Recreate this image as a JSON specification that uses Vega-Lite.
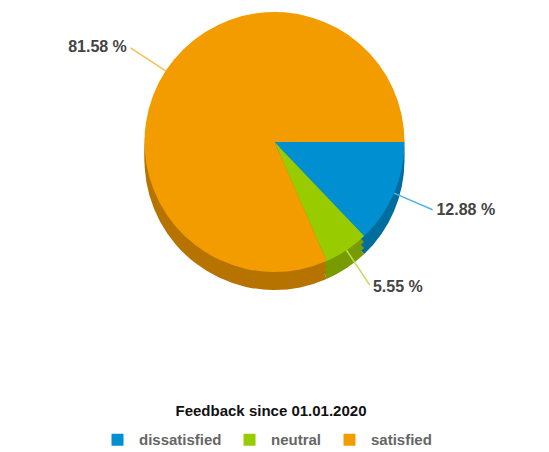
{
  "$schema": "https://vega.github.io/schema/vega-lite/v6.json",
  "width": 549,
  "height": 284,
  "padding": 0,
  "background": "white",
  "data": {"values": [
    {"category": "dissatisfied", "value": 12.88},
    {"category": "neutral", "value": 5.55},
    {"category": "satisfied", "value": 81.58}
  ]},
  "transform": [
    {"stack": "value", "groupby": [], "sort": [{"field": "category", "order": "ascending"}], "offset": "normalize", "as": ["t0", "t1"]},
    {"calculate": "(datum.t0 + datum.t1) / 2", "as": "mid"},
    {"calculate": "format(datum.value, '.2f') + ' %'", "as": "label"}
  ],
  "layer": [
    {
      "mark": {"type": "arc", "radius": 130, "yOffset": 18},
      "encoding": {
        "theta": {"field": "t0", "type": "quantitative", "stack": null, "scale": {"domain": [0, 1], "range": [1.5708, 7.854]}},
        "theta2": {"field": "t1"},
        "color": {"field": "category", "type": "nominal", "scale": {"domain": ["dissatisfied", "neutral", "satisfied"], "range": ["#006d9f", "#779b00", "#b77300"]}, "legend": null}
      }
    },
    {
      "mark": {"type": "arc", "radius": 130, "yOffset": 12},
      "encoding": {
        "theta": {"field": "t0", "type": "quantitative", "stack": null, "scale": {"domain": [0, 1], "range": [1.5708, 7.854]}},
        "theta2": {"field": "t1"},
        "color": {"field": "category", "type": "nominal", "scale": {"domain": ["dissatisfied", "neutral", "satisfied"], "range": ["#006d9f", "#779b00", "#b77300"]}, "legend": null}
      }
    },
    {
      "mark": {"type": "arc", "radius": 130, "yOffset": 6},
      "encoding": {
        "theta": {"field": "t0", "type": "quantitative", "stack": null, "scale": {"domain": [0, 1], "range": [1.5708, 7.854]}},
        "theta2": {"field": "t1"},
        "color": {"field": "category", "type": "nominal", "scale": {"domain": ["dissatisfied", "neutral", "satisfied"], "range": ["#006d9f", "#779b00", "#b77300"]}, "legend": null}
      }
    },
    {
      "mark": {"type": "arc", "radius": 130},
      "encoding": {
        "theta": {"field": "t0", "type": "quantitative", "stack": null, "scale": {"domain": [0, 1], "range": [1.5708, 7.854]}},
        "theta2": {"field": "t1"},
        "color": {
          "field": "category", "type": "nominal",
          "scale": {"domain": ["dissatisfied", "neutral", "satisfied"], "range": ["#0090d2", "#99cc00", "#f29c00"]},
          "legend": {
            "orient": "none", "legendX": 110, "legendY": 404, "direction": "horizontal", "title": "Feedback since 01.01.2020",
            "titleAnchor": "middle", "titleFontSize": 15, "titleFontWeight": "bold", "titleColor": "#111111", "titleLimit": 500,
            "titleFont": "Liberation Sans", "labelFont": "Liberation Sans", "titlePadding": 13,
            "labelFontSize": 15, "labelFontWeight": "bold", "labelColor": "#666666",
            "symbolType": "square", "symbolSize": 144, "symbolStrokeWidth": 0,
            "columnPadding": 20, "labelOffset": 14
          }
        }
      }
    },
    {
      "mark": {"type": "arc", "radius": 172, "radius2": 130, "fillOpacity": 0, "strokeWidth": 1.5},
      "encoding": {
        "theta": {"field": "mid", "type": "quantitative", "stack": null, "scale": {"domain": [0, 1], "range": [1.5708, 7.854]}},
        "theta2": {"field": "mid"},
        "stroke": {"field": "category", "type": "nominal", "scale": {"domain": ["dissatisfied", "neutral", "satisfied"], "range": ["#4fb3e3", "#b8e05a", "#f7bf5a"]}, "legend": null}
      }
    },
    {
      "transform": [{"filter": "datum.mid > 0.5"}],
      "mark": {"type": "text", "radius": 174, "align": "right", "baseline": "middle", "dx": -2, "font": "Liberation Sans", "fontSize": 16, "fontWeight": "bold", "color": "#444444"},
      "encoding": {
        "theta": {"field": "mid", "type": "quantitative", "stack": null, "scale": {"domain": [0, 1], "range": [1.5708, 7.854]}},
        "text": {"field": "label"}
      }
    },
    {
      "transform": [{"filter": "datum.mid <= 0.5"}],
      "mark": {"type": "text", "radius": 174, "align": "left", "baseline": "middle", "dx": 2, "font": "Liberation Sans", "fontSize": 16, "fontWeight": "bold", "color": "#444444"},
      "encoding": {
        "theta": {"field": "mid", "type": "quantitative", "stack": null, "scale": {"domain": [0, 1], "range": [1.5708, 7.854]}},
        "text": {"field": "label"}
      }
    }
  ],
  "resolve": {"scale": {"color": "independent", "stroke": "independent"}},
  "config": {"view": {"stroke": null}, "font": "Liberation Sans"}
}
